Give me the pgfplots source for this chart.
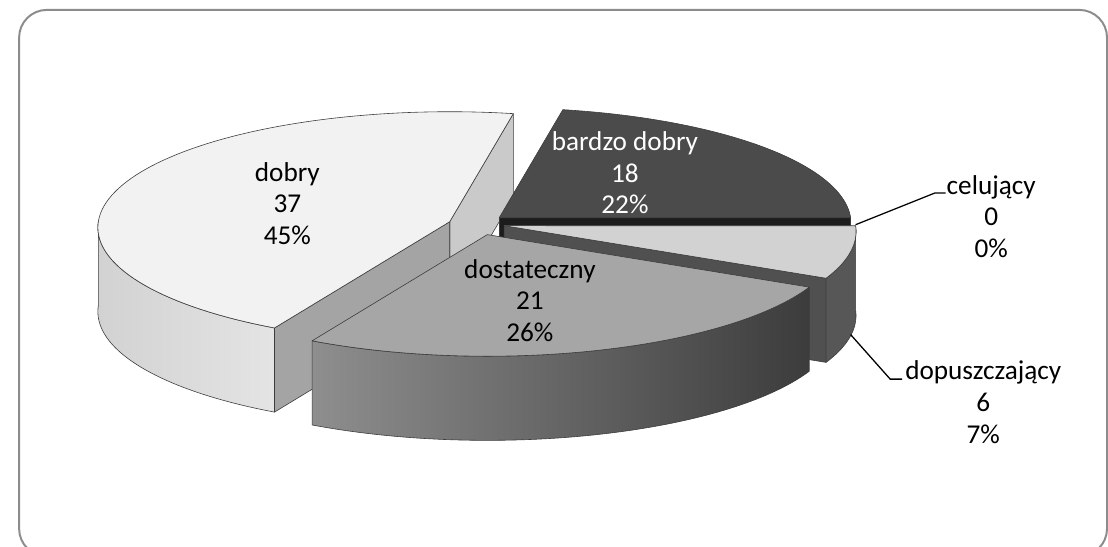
\documentclass[border=0pt]{standalone}
\usepackage{pgfplots}
\pgfplotsset{compat=1.18}
\usepackage{fontspec}
\setmainfont{Carlito}

\definecolor{edgec}{HTML}{3C3C3C}
\definecolor{bdTop}{HTML}{4B4B4B}
\definecolor{bdCut}{HTML}{1C1C1C}
\definecolor{dobTop}{HTML}{F2F2F2}
\definecolor{dobCutA}{HTML}{CACACA}
\definecolor{dobCutB}{HTML}{A4A4A4}
\definecolor{dobSideL}{HTML}{D2D2D2}
\definecolor{dobSideR}{HTML}{E4E4E4}
\definecolor{dostTop}{HTML}{A6A6A6}
\definecolor{dostSideL}{HTML}{8E8E8E}
\definecolor{dostSideR}{HTML}{3C3C3C}
\definecolor{dopTop}{HTML}{D2D2D2}
\definecolor{dopCut}{HTML}{505050}
\definecolor{dopSide}{HTML}{575757}
\definecolor{frame}{HTML}{8C8C8C}

% data: number of grades
\def\vCel{0}
\def\vBD{18}
\def\vDob{37}
\def\vDost{21}
\def\vDop{6}

\newcommand{\topface}[5]{%
  \filldraw[fill=#5, draw=edgec, line width=0.6pt, line join=round]
    (axis cs:#1,#2) -- plot[domain=#3:#4, samples=90, variable=\th]
    (axis cs:{px(#1,\th)},{py(#2,\th)}) -- cycle;}
\newcommand{\sideface}[5]{%
  \path[#5, draw=edgec, line width=0.6pt, line join=round]
    plot[domain=#3:#4, samples=60, variable=\th] (axis cs:{px(#1,\th)},{py(#2,\th)})
    -- plot[domain=#4:#3, samples=60, variable=\th] (axis cs:{px(#1,\th)},{py(#2,\th)+85})
    -- cycle;}
\newcommand{\cutface}[4]{%
  \filldraw[fill=#4, draw=edgec, line width=0.6pt, line join=round]
    (axis cs:#1,#2) -- (axis cs:{px(#1,#3)},{py(#2,#3)})
    -- (axis cs:{px(#1,#3)},{py(#2,#3)+85}) -- (axis cs:#1,{#2+85}) -- cycle;}
\newcommand{\lbl}[4]{%
  \node[anchor=base, inner sep=0pt, text=#4, font=\fontsize{27.5}{32}\selectfont]
    at (axis cs:#1,#2) {#3};}

\begin{document}
\pgfmathsetmacro{\tot}{\vCel+\vBD+\vDob+\vDost+\vDop}
\pgfmathsetmacro{\aA}{360*\vBD/\tot}
\pgfmathsetmacro{\aB}{\aA+360*\vDob/\tot}
\pgfmathsetmacro{\aC}{\aB+360*\vDost/\tot}
\pgfmathsetmacro{\aD}{\aC+360*\vDop/\tot}
\begin{tikzpicture}[
  declare function={
    sfac(\ang)=1-0.05*sin(\ang);
    px(\ctr,\ang)=\ctr+355*cos(\ang)*sfac(\ang);
    py(\ctr,\ang)=\ctr-117*sin(\ang)*sfac(\ang);
  }]
\begin{axis}[hide axis, scale only axis, width=1108pt, height=552pt,
  xmin=0, xmax=1108, ymin=0, ymax=552, y dir=reverse, clip=false]

% picture area
\path (axis cs:0,0) rectangle (axis cs:1108,552);
% frame
\draw[overlay, draw=frame, line width=2pt, rounded corners=28pt]
  (axis cs:8,10) rectangle (axis cs:1107,562);

% dobry (37)
\cutface{443}{224}{\aA}{dobCutA}
\cutface{443}{224}{\aB}{dobCutB}
\sideface{443}{224}{180}{\aB}{left color=dobSideL, right color=dobSideR}
\topface{443}{224}{\aA}{\aB}{dobTop}

% bardzo dobry (18)
\cutface{493}{220}{0}{bdCut}
\topface{493}{220}{0}{\aA}{bdTop}

% dopuszczajacy (6)
\cutface{498}{228}{\aC}{dopCut}
\sideface{498}{228}{\aC}{\aD}{fill=dopSide}
\topface{498}{228}{\aC}{\aD}{dopTop}

% dostateczny (21)
\sideface{481}{237}{\aB}{\aC}{left color=dostSideL, right color=dostSideR}
\topface{481}{237}{\aB}{\aC}{dostTop}

% leader lines
\draw[black, line width=1.3pt] (axis cs:853,227) -- (axis cs:933,195) -- (axis cs:944,195);
\draw[black, line width=1.3pt] (axis cs:848,338) -- (axis cs:888,383) -- (axis cs:900,383);

% labels
\lbl{620}{152}{bardzo dobry}{white}
\lbl{620}{184}{18}{white}
\lbl{620}{216}{22\%}{white}
\lbl{279}{183}{dobry}{black}
\lbl{279}{215}{37}{black}
\lbl{279}{247}{45\%}{black}
\lbl{524}{281}{dostateczny}{black}
\lbl{524}{313}{21}{black}
\lbl{524}{345}{26\%}{black}
\lbl{990}{196}{celujący}{black}
\lbl{990}{228}{0}{black}
\lbl{990}{260}{0\%}{black}
\lbl{982}{383}{dopuszczający}{black}
\lbl{982}{416}{6}{black}
\lbl{982}{448}{7\%}{black}
\end{axis}
\end{tikzpicture}
\end{document}
